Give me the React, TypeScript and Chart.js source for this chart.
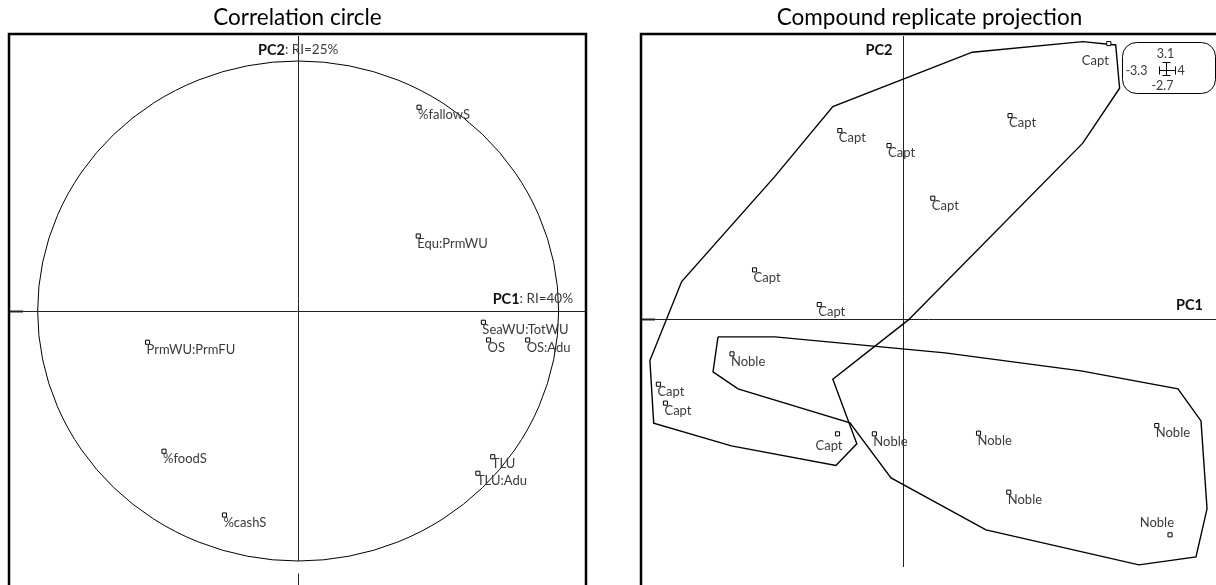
import React, { useEffect, useRef } from "react";
import { Chart, registerables } from "chart.js";

Chart.register(...registerables);

// ---------- Correlation circle (variables) ----------
const varNames = ["%fallowS", "Equ:PrmWU", "SeaWU:TotWU", "OS", "OS:Adu", "PrmWU:PrmFU", "%foodS", "TLU", "TLU:Adu", "%cashS"];
const varPC1 = [0.464, 0.461, 0.711, 0.731, 0.881, -0.578, -0.515, 0.747, 0.69, -0.283];
const varPC2 = [0.815, 0.3, -0.045, -0.116, -0.116, -0.125, -0.561, -0.583, -0.649, -0.816];
const corrAxisNames = ["PC1", "PC2"];
const corrAxisInertia = [": RI=40%", ": RI=25%"];

// ---------- Compound replicate projection ----------
const groupNames = ["Capt", "Noble"];
const captPC1 = [2.592, 1.348, -0.796, -0.176, 0.375, -1.87, -1.055, -3.081, -2.992, -0.825];
const captPC2 = [2.996, 2.212, 2.049, 1.886, 1.313, 0.533, 0.156, -0.711, -0.917, -1.251];
const noblePC1 = [-2.154, -0.361, 0.951, 3.196, 1.332, 3.363];
const noblePC2 = [-0.381, -1.251, -1.244, -1.161, -1.886, -2.35];
const captHullPC1 = [2.264, 2.679, 2.728, 2.264, 0.068, -0.884, -0.582, -0.845, -2.162, -3.14, -3.188, -2.788, -1.616, -0.884, 0.873];
const captHullPC2 = [3.017, 2.981, 2.51, 1.912, -0.011, -0.656, -1.36, -1.596, -1.382, -1.135, -0.454, 0.406, 1.548, 2.31, 2.902];
const nobleHullPC1 = [-2.33, -1.612, 0.529, 2.242, 3.463, 3.753, 3.829, 3.69, 2.972, 1.045, -0.151, -0.668, -2.078, -2.393];
const nobleHullPC2 = [-0.196, -0.196, -0.37, -0.566, -0.762, -1.11, -2.067, -2.59, -2.677, -2.296, -1.73, -1.132, -0.762, -0.577];
const projAxisNames = ["PC1", "PC2"];
// axis ranges shown in the key box: PC1 min, PC1 max, PC2 min, PC2 max
const rangeLabels = ["-3.3", "4", "-2.7", "3.1"];

// label placement styles (align, dx, dy) for points whose label is not below-right
const captLabelStyle: Record<number, [CanvasTextAlign, number, number]> = { 0: ["right", 0, 17], 9: ["right", 5, 12] };
const nobleLabelStyle: Record<number, [CanvasTextAlign, number, number]> = { 5: ["right", 4, -12] };

const FONT = "Lato, 'Open Sans', sans-serif";
const TEXT = "#3a3a3a";

const toPts = (xs: number[], ys: number[]) => xs.map((x, i) => ({ x, y: ys[i] }));
const closed = (xs: number[], ys: number[]) => {
  const p = toPts(xs, ys);
  return [...p, p[0]];
};

function drawFrame(ctx: CanvasRenderingContext2D, a: any, withRight: boolean) {
  ctx.save();
  ctx.strokeStyle = "#000";
  ctx.lineWidth = 2.5;
  ctx.beginPath();
  ctx.moveTo(a.left, a.bottom + 5);
  ctx.lineTo(a.left, a.top);
  ctx.lineTo(withRight ? a.right : a.right + 10, a.top);
  if (withRight) ctx.lineTo(a.right, a.bottom + 5);
  ctx.stroke();
  ctx.restore();
}

function drawTitle(ctx: CanvasRenderingContext2D, text: string, cx: number) {
  ctx.save();
  ctx.fillStyle = "#000";
  ctx.font = `22.5px ${FONT}`;
  ctx.textAlign = "center";
  ctx.textBaseline = "middle";
  ctx.fillText(text, cx, 18);
  ctx.restore();
}

function drawRich(ctx: CanvasRenderingContext2D, bold: string, normal: string, x: number, y: number, align: "center" | "right") {
  ctx.save();
  ctx.textBaseline = "middle";
  ctx.textAlign = "left";
  ctx.font = `bold 14.5px ${FONT}`;
  const wb = ctx.measureText(bold).width;
  ctx.font = `13.5px ${FONT}`;
  const wn = ctx.measureText(normal).width;
  const total = wb + wn;
  const start = align === "center" ? x - total / 2 : x - total;
  ctx.font = `bold 14.5px ${FONT}`;
  ctx.fillStyle = "#111";
  ctx.fillText(bold, start, y);
  ctx.font = `13.5px ${FONT}`;
  ctx.fillStyle = TEXT;
  ctx.fillText(normal, start + wb, y);
  ctx.restore();
}

function drawPointLabels(chart: any, dsIndex: number, labels: string[], styles: Record<number, [CanvasTextAlign, number, number]>) {
  const ctx = chart.ctx as CanvasRenderingContext2D;
  const meta = chart.getDatasetMeta(dsIndex);
  ctx.save();
  ctx.font = `13px ${FONT}`;
  ctx.fillStyle = TEXT;
  ctx.textBaseline = "middle";
  meta.data.forEach((el: any, i: number) => {
    const st = styles[i] || ["left", -1, 7.5];
    ctx.textAlign = st[0];
    ctx.fillText(labels[i], el.x + st[1], el.y + st[2]);
  });
  ctx.restore();
}

const corrPlugin = {
  id: "corrDecor",
  beforeDatasetsDraw(chart: any) {
    const ctx = chart.ctx as CanvasRenderingContext2D;
    const a = chart.chartArea;
    const xs = chart.scales.x;
    const ys = chart.scales.y;
    const x0 = xs.getPixelForValue(0);
    const y0 = ys.getPixelForValue(0);
    ctx.save();
    // unit circle
    ctx.strokeStyle = "#000";
    ctx.lineWidth = 1;
    ctx.beginPath();
    ctx.ellipse(x0, y0, xs.getPixelForValue(1) - x0, y0 - ys.getPixelForValue(1), 0, 0, Math.PI * 2);
    ctx.stroke();
    // axes
    ctx.strokeStyle = "#222";
    ctx.beginPath();
    ctx.moveTo(a.left, Math.round(y0) + 0.5);
    ctx.lineTo(a.right, Math.round(y0) + 0.5);
    ctx.moveTo(Math.round(x0) + 0.5, a.top + 2);
    ctx.lineTo(Math.round(x0) + 0.5, ys.getPixelForValue(-1));
    ctx.moveTo(Math.round(x0) + 0.5, ys.getPixelForValue(-1.05));
    ctx.lineTo(Math.round(x0) + 0.5, a.bottom);
    ctx.stroke();
    ctx.lineWidth = 2;
    ctx.beginPath();
    ctx.moveTo(a.left, Math.round(y0) + 0.5);
    ctx.lineTo(a.left + 14, Math.round(y0) + 0.5);
    ctx.stroke();
    ctx.restore();
    drawFrame(ctx, a, true);
    drawTitle(ctx, "Correlation circle", (a.left + a.right) / 2);
    drawRich(ctx, corrAxisNames[1], corrAxisInertia[1], x0, a.top + 16, "center");
    drawRich(ctx, corrAxisNames[0], corrAxisInertia[0], a.right - 13, y0 - 12, "right");
  },
  afterDatasetsDraw(chart: any) {
    drawPointLabels(chart, 0, varNames, {});
  },
};

const projPlugin = {
  id: "projDecor",
  beforeDatasetsDraw(chart: any) {
    const ctx = chart.ctx as CanvasRenderingContext2D;
    const a = chart.chartArea;
    const xs = chart.scales.x;
    const ys = chart.scales.y;
    const x0 = Math.round(xs.getPixelForValue(0)) + 0.5;
    const y0 = Math.round(ys.getPixelForValue(0)) + 0.5;
    ctx.save();
    ctx.strokeStyle = "#222";
    ctx.lineWidth = 1;
    ctx.beginPath();
    ctx.moveTo(a.left, y0);
    ctx.lineTo(a.right, y0);
    ctx.moveTo(x0, ys.getPixelForValue(parseFloat(rangeLabels[3])) + 2);
    ctx.lineTo(x0, ys.getPixelForValue(parseFloat(rangeLabels[2])));
    ctx.stroke();
    ctx.lineWidth = 2;
    ctx.beginPath();
    ctx.moveTo(a.left, y0);
    ctx.lineTo(a.left + 14, y0);
    ctx.stroke();
    ctx.restore();
    drawFrame(ctx, a, false);
    drawTitle(ctx, "Compound replicate projection", (a.left + a.right + 2) / 2);
    drawRich(ctx, projAxisNames[1], "", x0 - 11, a.top + 16, "right");
    drawRich(ctx, projAxisNames[0], "", a.right - 13, y0 - 14, "right");
  },
  afterDatasetsDraw(chart: any) {
    const ctx = chart.ctx as CanvasRenderingContext2D;
    const a = chart.chartArea;
    drawPointLabels(chart, 0, captPC1.map(() => groupNames[0]), captLabelStyle);
    drawPointLabels(chart, 1, noblePC1.map(() => groupNames[1]), nobleLabelStyle);
    // key box with axis ranges
    const bx = a.right - 94, by = a.top + 8, bw = 93, bh = 51;
    ctx.save();
    ctx.strokeStyle = "#000";
    ctx.lineWidth = 1;
    ctx.beginPath();
    (ctx as any).roundRect(bx + 0.5, by + 0.5, bw, bh, 14);
    ctx.stroke();
    const cx = bx + 44.5, cy = by + 28.5;
    ctx.beginPath();
    ctx.moveTo(cx - 7, cy);
    ctx.lineTo(cx + 9, cy);
    ctx.moveTo(cx - 7, cy - 4);
    ctx.lineTo(cx - 7, cy + 4);
    ctx.moveTo(cx + 9, cy - 4);
    ctx.lineTo(cx + 9, cy + 4);
    ctx.moveTo(cx, cy - 8);
    ctx.lineTo(cx, cy + 5);
    ctx.moveTo(cx - 4, cy - 8);
    ctx.lineTo(cx + 4, cy - 8);
    ctx.moveTo(cx - 4, cy + 5);
    ctx.lineTo(cx + 4, cy + 5);
    ctx.stroke();
    ctx.font = `12.5px ${FONT}`;
    ctx.fillStyle = TEXT;
    ctx.textBaseline = "middle";
    ctx.textAlign = "center";
    ctx.fillText(rangeLabels[3], cx - 1, by + 12);
    ctx.fillText(rangeLabels[2], cx - 4, by + 44);
    ctx.textAlign = "right";
    ctx.fillText(rangeLabels[0], cx - 19, cy);
    ctx.textAlign = "left";
    ctx.fillText(rangeLabels[1], cx + 11, cy);
    ctx.restore();
  },
};

const pointStyle = {
  pointStyle: "rect" as const,
  pointRadius: 2.9,
  pointHoverRadius: 2.9,
  pointBorderWidth: 1,
  pointBackgroundColor: "#fff",
  pointBorderColor: "#000",
  showLine: false,
};

const baseOptions = (padding: any, xr: [number, number], yr: [number, number]) => ({
  responsive: false,
  animation: false as const,
  devicePixelRatio: 1,
  layout: { padding, autoPadding: false },
  events: [],
  scales: {
    x: { type: "linear" as const, display: false, min: xr[0], max: xr[1] },
    y: { type: "linear" as const, display: false, min: yr[0], max: yr[1] },
  },
  plugins: { legend: { display: false }, tooltip: { enabled: false }, title: { display: false } },
});

export default function App() {
  const leftRef = useRef<HTMLCanvasElement>(null);
  const rightRef = useRef<HTMLCanvasElement>(null);

  useEffect(() => {
    const left = new Chart(leftRef.current!, {
      type: "scatter",
      data: {
        datasets: [{ data: toPts(varPC1, varPC2), ...pointStyle }],
      },
      options: baseOptions({ left: 9, right: 22, top: 34, bottom: 0 }, [-1.11, 1.105], [-1.096, 1.108]) as any,
      plugins: [corrPlugin],
    });
    const right = new Chart(rightRef.current!, {
      type: "scatter",
      data: {
        datasets: [
          { data: toPts(captPC1, captPC2), ...pointStyle },
          { data: toPts(noblePC1, noblePC2), ...pointStyle },
          { data: closed(captHullPC1, captHullPC2), showLine: true, pointRadius: 0, pointHoverRadius: 0, borderColor: "#000", borderWidth: 1.4, tension: 0 },
          { data: closed(nobleHullPC1, nobleHullPC2), showLine: true, pointRadius: 0, pointHoverRadius: 0, borderColor: "#000", borderWidth: 1.4, tension: 0 },
        ],
      },
      options: baseOptions({ left: 33, right: 0, top: 34, bottom: 0 }, [-3.3, 3.942], [-2.896, 3.1]) as any,
      plugins: [projPlugin],
    });
    return () => {
      left.destroy();
      right.destroy();
    };
  }, []);

  return (
    <div style={{ position: "fixed", left: 0, top: 0, width: 1216, height: 585, overflow: "hidden", background: "#fff" }}>
      <canvas ref={leftRef} width={608} height={585} style={{ position: "absolute", left: 0, top: 0 }} />
      <canvas ref={rightRef} width={608} height={585} style={{ position: "absolute", left: 608, top: 0 }} />
    </div>
  );
}
